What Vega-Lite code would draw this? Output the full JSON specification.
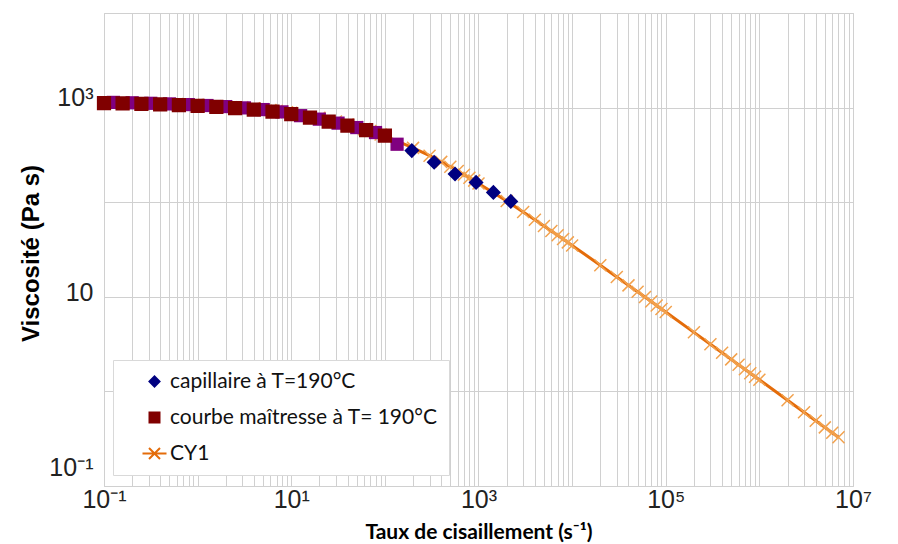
{
  "$schema": "https://vega.github.io/schema/vega-lite/v6.json",
  "width": 749,
  "height": 473,
  "autosize": "none",
  "padding": {"left": 104, "top": 13, "right": 45, "bottom": 58},
  "background": "white",
  "config": {"view": {"stroke": "#d0d0d0", "strokeWidth": 1}, "font": "Liberation Sans"},
  "data": {"values": [
    {"series": "CY1", "shear": 0.1, "viscosity": 1124}, {"series": "CY1", "shear": 0.2, "viscosity": 1114}, {"series": "CY1", "shear": 0.3, "viscosity": 1107}, {"series": "CY1", "shear": 0.4, "viscosity": 1100}, {"series": "CY1", "shear": 0.5, "viscosity": 1094}, {"series": "CY1", "shear": 0.6, "viscosity": 1089}, {"series": "CY1", "shear": 0.7, "viscosity": 1084}, {"series": "CY1", "shear": 0.8, "viscosity": 1078}, {"series": "CY1", "shear": 0.9, "viscosity": 1074},
    {"series": "CY1", "shear": 1, "viscosity": 1070}, {"series": "CY1", "shear": 2, "viscosity": 1034}, {"series": "CY1", "shear": 3, "viscosity": 1005}, {"series": "CY1", "shear": 4, "viscosity": 981}, {"series": "CY1", "shear": 5, "viscosity": 960}, {"series": "CY1", "shear": 6, "viscosity": 941}, {"series": "CY1", "shear": 7, "viscosity": 924}, {"series": "CY1", "shear": 8, "viscosity": 909}, {"series": "CY1", "shear": 9, "viscosity": 895},
    {"series": "CY1", "shear": 10, "viscosity": 881}, {"series": "CY1", "shear": 20, "viscosity": 780}, {"series": "CY1", "shear": 30, "viscosity": 714}, {"series": "CY1", "shear": 40, "viscosity": 664}, {"series": "CY1", "shear": 50, "viscosity": 625}, {"series": "CY1", "shear": 60, "viscosity": 592}, {"series": "CY1", "shear": 70, "viscosity": 565}, {"series": "CY1", "shear": 80, "viscosity": 541}, {"series": "CY1", "shear": 90, "viscosity": 520},
    {"series": "CY1", "shear": 100, "viscosity": 502}, {"series": "CY1", "shear": 200, "viscosity": 375}, {"series": "CY1", "shear": 300, "viscosity": 310}, {"series": "CY1", "shear": 400, "viscosity": 267}, {"series": "CY1", "shear": 500, "viscosity": 237}, {"series": "CY1", "shear": 600, "viscosity": 214}, {"series": "CY1", "shear": 700, "viscosity": 195}, {"series": "CY1", "shear": 800, "viscosity": 181}, {"series": "CY1", "shear": 900, "viscosity": 169},
    {"series": "CY1", "shear": 1000, "viscosity": 158}, {"series": "CY1", "shear": 2000, "viscosity": 103}, {"series": "CY1", "shear": 3000, "viscosity": 78.9}, {"series": "CY1", "shear": 4000, "viscosity": 65.2}, {"series": "CY1", "shear": 5000, "viscosity": 56.1}, {"series": "CY1", "shear": 6000, "viscosity": 49.6}, {"series": "CY1", "shear": 7000, "viscosity": 44.7}, {"series": "CY1", "shear": 8000, "viscosity": 40.8}, {"series": "CY1", "shear": 9000, "viscosity": 37.6},
    {"series": "CY1", "shear": 10000, "viscosity": 34.9}, {"series": "CY1", "shear": 20000, "viscosity": 21.6}, {"series": "CY1", "shear": 30000, "viscosity": 16.2}, {"series": "CY1", "shear": 40000, "viscosity": 13.2}, {"series": "CY1", "shear": 50000, "viscosity": 11.3}, {"series": "CY1", "shear": 60000, "viscosity": 9.93}, {"series": "CY1", "shear": 70000, "viscosity": 8.9}, {"series": "CY1", "shear": 80000, "viscosity": 8.09}, {"series": "CY1", "shear": 90000, "viscosity": 7.44},
    {"series": "CY1", "shear": 100000, "viscosity": 6.9}, {"series": "CY1", "shear": 200000, "viscosity": 4.21}, {"series": "CY1", "shear": 300000, "viscosity": 3.146}, {"series": "CY1", "shear": 400000, "viscosity": 2.559}, {"series": "CY1", "shear": 500000, "viscosity": 2.18}, {"series": "CY1", "shear": 600000, "viscosity": 1.914}, {"series": "CY1", "shear": 700000, "viscosity": 1.713}, {"series": "CY1", "shear": 800000, "viscosity": 1.556}, {"series": "CY1", "shear": 900000, "viscosity": 1.43},
    {"series": "CY1", "shear": 1000000, "viscosity": 1.326}, {"series": "CY1", "shear": 2000000, "viscosity": 0.806}, {"series": "CY1", "shear": 3000000, "viscosity": 0.602}, {"series": "CY1", "shear": 4000000, "viscosity": 0.4895}, {"series": "CY1", "shear": 5000000, "viscosity": 0.4169}, {"series": "CY1", "shear": 6000000, "viscosity": 0.3656}, {"series": "CY1", "shear": 7000000, "viscosity": 0.3271},
    {"series": "purple", "shear": 0.126, "viscosity": 1135}, {"series": "purple", "shear": 0.2, "viscosity": 1124}, {"series": "purple", "shear": 0.316, "viscosity": 1110}, {"series": "purple", "shear": 0.501, "viscosity": 1094}, {"series": "purple", "shear": 0.794, "viscosity": 1076}, {"series": "purple", "shear": 1.259, "viscosity": 1052}, {"series": "purple", "shear": 1.995, "viscosity": 1025}, {"series": "purple", "shear": 3.162, "viscosity": 993}, {"series": "purple", "shear": 5.012, "viscosity": 953}, {"series": "purple", "shear": 7.943, "viscosity": 901}, {"series": "purple", "shear": 12.59, "viscosity": 822}, {"series": "purple", "shear": 19.95, "viscosity": 755}, {"series": "purple", "shear": 31.62, "viscosity": 685}, {"series": "purple", "shear": 50.12, "viscosity": 615}, {"series": "purple", "shear": 79.43, "viscosity": 545}, {"series": "purple", "shear": 135, "viscosity": 410},
    {"series": "courbe maîtresse à T= 190°C", "shear": 0.1, "viscosity": 1116}, {"series": "courbe maîtresse à T= 190°C", "shear": 0.158, "viscosity": 1110}, {"series": "courbe maîtresse à T= 190°C", "shear": 0.251, "viscosity": 1097}, {"series": "courbe maîtresse à T= 190°C", "shear": 0.398, "viscosity": 1081}, {"series": "courbe maîtresse à T= 190°C", "shear": 0.631, "viscosity": 1062}, {"series": "courbe maîtresse à T= 190°C", "shear": 1, "viscosity": 1042}, {"series": "courbe maîtresse à T= 190°C", "shear": 1.585, "viscosity": 1016}, {"series": "courbe maîtresse à T= 190°C", "shear": 2.512, "viscosity": 989}, {"series": "courbe maîtresse à T= 190°C", "shear": 3.981, "viscosity": 953}, {"series": "courbe maîtresse à T= 190°C", "shear": 6.31, "viscosity": 907}, {"series": "courbe maîtresse à T= 190°C", "shear": 10, "viscosity": 853}, {"series": "courbe maîtresse à T= 190°C", "shear": 15.85, "viscosity": 783}, {"series": "courbe maîtresse à T= 190°C", "shear": 25.12, "viscosity": 711}, {"series": "courbe maîtresse à T= 190°C", "shear": 39.81, "viscosity": 645}, {"series": "courbe maîtresse à T= 190°C", "shear": 63.1, "viscosity": 578}, {"series": "courbe maîtresse à T= 190°C", "shear": 100, "viscosity": 506},
    {"series": "capillaire à T=190°C", "shear": 194, "viscosity": 351}, {"series": "capillaire à T=190°C", "shear": 336, "viscosity": 264}, {"series": "capillaire à T=190°C", "shear": 562, "viscosity": 199}, {"series": "capillaire à T=190°C", "shear": 942, "viscosity": 162}, {"series": "capillaire à T=190°C", "shear": 1442, "viscosity": 127}, {"series": "capillaire à T=190°C", "shear": 2213, "viscosity": 102}
  ]},
  "encoding": {
    "x": {
      "field": "shear", "type": "quantitative",
      "scale": {"type": "log", "domain": [0.1, 10000000], "nice": false},
      "axis": {
        "title": "Taux de cisaillement (s⁻¹)",
        "values": [0.1,0.2,0.3,0.4,0.5,0.6,0.7,0.8,0.9,1,2,3,4,5,6,7,8,9,10,20,30,40,50,60,70,80,90,100,200,300,400,500,600,700,800,900,1000,2000,3000,4000,5000,6000,7000,8000,9000,10000,20000,30000,40000,50000,60000,70000,80000,90000,100000,200000,300000,400000,500000,600000,700000,800000,900000,1000000,2000000,3000000,4000000,5000000,6000000,7000000,8000000,9000000,10000000],
        "labelExpr": "datum.value == 0.1 ? '10⁻¹' : datum.value == 10 ? '10¹' : datum.value == 1000 ? '10³' : datum.value == 100000 ? '10⁵' : datum.value == 10000000 ? '10⁷' : ''",
        "ticks": false, "domain": false,
        "gridColor": "#d0d0d0", "gridWidth": 1,
        "labelFont": "Liberation Sans", "labelFontSize": 25, "labelColor": "#222222",
        "labelPadding": 1, "labelFlush": false, "labelOverlap": false, "labelBound": false,
        "titleFont": "Lato", "titleFontWeight": "bold", "titleFontSize": 21, "titleColor": "#000000",
        "titleBaseline": "alphabetic", "titleY": 52
      }
    },
    "y": {
      "field": "viscosity", "type": "quantitative",
      "scale": {"type": "log", "domain": [0.1, 10000], "nice": false},
      "axis": {
        "title": "Viscosité (Pa s)",
        "values": [0.1, 1, 10, 100, 1000, 10000],
        "labelExpr": "datum.value == 1000 ? '10³' : datum.value == 10 ? '10' : datum.value == 0.1 ? '10⁻¹' : ''",
        "ticks": false, "domain": false,
        "gridColor": "#d0d0d0", "gridWidth": 1,
        "labelFont": "Liberation Sans", "labelFontSize": 25, "labelColor": "#222222",
        "labelPadding": 11, "labelOverlap": false, "labelBound": false, "labelFlush": false,
        "labelOffset": {"condition": [{"test": "datum.value == 1000", "value": -10}, {"test": "datum.value == 0.1", "value": -19}], "value": -4},
        "titleFont": "Liberation Sans", "titleFontWeight": "bold", "titleFontSize": 24, "titleColor": "#000000",
        "titleX": -73, "titleY": 240, "titleAngle": -90, "titleAlign": "center", "titleBaseline": "middle"
      }
    }
  },
  "layer": [
    {
      "transform": [{"filter": "datum.series == 'CY1'"}],
      "mark": {"type": "line", "color": "#E46C0A", "strokeWidth": 3}
    },
    {
      "transform": [{"filter": "datum.series == 'CY1'"}],
      "mark": {"type": "point", "shape": "M-1,-1L1,1M-1,1L1,-1", "size": 144, "filled": false, "stroke": "#F2A24E", "strokeWidth": 1.5, "opacity": 1}
    },
    {
      "transform": [{"filter": "datum.series == 'purple'"}],
      "mark": {"type": "point", "shape": "square", "filled": true, "color": "#800080", "size": 175, "opacity": 1}
    },
    {
      "transform": [{"filter": "datum.series != 'CY1' && datum.series != 'purple'"}],
      "mark": {"type": "point", "filled": true, "size": 150, "opacity": 1, "strokeWidth": 2},
      "encoding": {
        "color": {
          "field": "series", "type": "nominal",
          "scale": {"domain": ["capillaire à T=190°C", "courbe maîtresse à T= 190°C", "CY1"], "range": ["#000080", "#800000", "#E46C0A"]},
          "legend": {
            "title": null, "orient": "none", "legendX": 9, "legendY": 347,
            "fillColor": "white", "strokeColor": "#d9d9d9", "padding": 11,
            "symbolSize": 100, "symbolStrokeWidth": 2, "symbolOffset": 20, "labelOffset": 5,
            "labelFont": "Lato", "labelFontSize": 21, "labelColor": "#111111", "rowPadding": 14, "labelLimit": 0
          }
        },
        "stroke": {
          "field": "series", "type": "nominal",
          "scale": {"domain": ["capillaire à T=190°C", "courbe maîtresse à T= 190°C", "CY1"], "range": ["#000080", "#800000", "#E46C0A"]},
          "legend": {
            "title": null, "orient": "none", "legendX": 9, "legendY": 347,
            "fillColor": "white", "strokeColor": "#d9d9d9", "padding": 11,
            "symbolSize": 100, "symbolStrokeWidth": 2, "symbolOffset": 20, "labelOffset": 5,
            "labelFont": "Lato", "labelFontSize": 21, "labelColor": "#111111", "rowPadding": 14, "labelLimit": 0
          }
        },
        "shape": {
          "field": "series", "type": "nominal",
          "scale": {"domain": ["capillaire à T=190°C", "courbe maîtresse à T= 190°C", "CY1"], "range": ["diamond", "square", "M-2.4,0L2.4,0M-1.1,-1.1L1.1,1.1M-1.1,1.1L1.1,-1.1"]},
          "legend": {
            "title": null, "orient": "none", "legendX": 9, "legendY": 347,
            "fillColor": "white", "strokeColor": "#d9d9d9", "padding": 11,
            "symbolSize": 100, "symbolStrokeWidth": 2, "symbolOffset": 20, "labelOffset": 5,
            "labelFont": "Lato", "labelFontSize": 21, "labelColor": "#111111", "rowPadding": 14, "labelLimit": 0
          }
        },
        "order": {"field": "series", "sort": "descending"}
      }
    }
  ]
}
